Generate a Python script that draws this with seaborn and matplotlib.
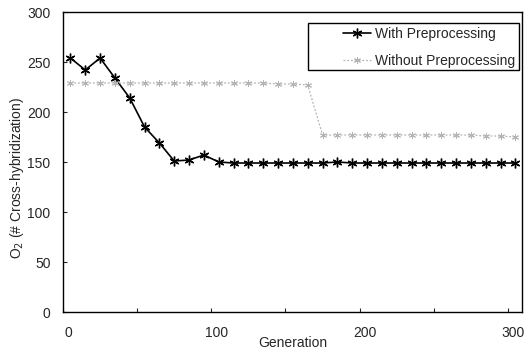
import matplotlib.pyplot as plt
import matplotlib.transforms as mtransforms
from matplotlib.patches import Rectangle
import pandas as pd
import seaborn as sns

# Generations sampled every 10
generation = list(range(5, 306, 10))

with_pre = [254, 242, 254, 234, 214, 185, 169, 151, 152, 157, 150, 149, 149, 149, 149,
            149, 149, 149, 150, 149, 149, 149, 149, 149, 149, 149, 149, 149, 149, 149, 149]
without_pre = [229, 229, 229, 229, 229, 229, 229, 229, 229, 229, 229, 229, 229, 229, 228,
               228, 227, 177, 177, 177, 177, 177, 177, 177, 177, 177, 177, 177, 176, 176, 175]

df = pd.DataFrame({"Generation": generation,
                   "With Preprocessing": with_pre,
                   "Without Preprocessing": without_pre})

sns.set_style("white")
plt.rcParams['font.family'] = ['Liberation Sans', 'DejaVu Sans']

fig = plt.figure(figsize=(5.29, 3.52), dpi=100)
ax = fig.add_axes([0.1191, 0.1136, 0.8677, 0.8523])

star = (6, 2, 0)
sns.lineplot(data=df, x="Generation", y="With Preprocessing", ax=ax,
             color="black", lw=1.2, marker=star, markersize=7,
             markeredgecolor="black", markeredgewidth=1.0,
             label="With Preprocessing")
sns.lineplot(data=df, x="Generation", y="Without Preprocessing", ax=ax,
             color="#b4b4b4", lw=0.9, linestyle=(0, (1.5, 1.5)), marker=star,
             markersize=5, markeredgecolor="#b4b4b4", markeredgewidth=0.7,
             label="Without Preprocessing")

ax.set_xlim(0, 309.5)
ax.set_ylim(0, 300)
ax.set_xticks([0, 100, 200, 300])
ax.set_xticks([50, 150, 250], minor=True)
ax.set_yticks(range(0, 301, 50))
ax.tick_params(axis="both", which="both", direction="in", length=3, width=0.8,
               labelsize=10, bottom=True, left=True)
ax.tick_params(axis="x", pad=10)
ax.tick_params(axis="y", pad=9)
# x tick labels sit a little right of their ticks in the original
shift = mtransforms.ScaledTranslation(0.05, 0, fig.dpi_scale_trans)
for lbl in ax.get_xticklabels():
    lbl.set_transform(lbl.get_transform() + shift)

ax.set_xlabel("Generation", fontsize=10, labelpad=-3)
ax.set_ylabel("O$_2$ (# Cross-hybridization)", fontsize=10)
ax.yaxis.set_label_coords(-0.081, 0.447)
for s in ax.spines.values():
    s.set_color("black")
    s.set_linewidth(1.0)

leg = ax.legend(loc="upper right", bbox_to_anchor=(0.9935, 0.9633), fontsize=10,
                frameon=False, handlelength=2, handletextpad=0.3,
                borderpad=0.3, labelspacing=0.94, borderaxespad=0)
ax.add_patch(Rectangle((0.534, 0.8067), 0.9935 - 0.534, 0.9633 - 0.8067,
                       transform=ax.transAxes, fill=False, edgecolor="black",
                       lw=1.0, zorder=5))

fig.savefig("out.png", dpi=100)
